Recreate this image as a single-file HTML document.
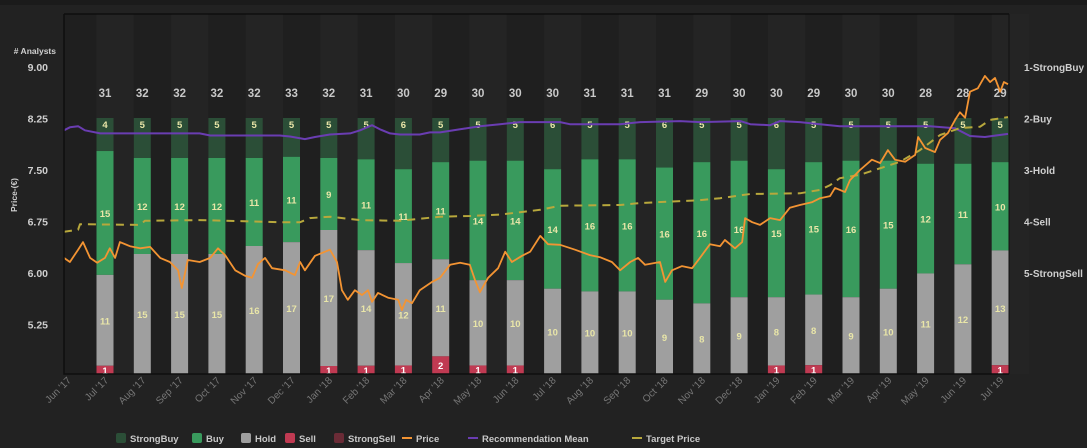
<!DOCTYPE html>
<html><head><meta charset="utf-8">
<style>
body{margin:0;background:#222;width:1087px;height:448px;overflow:hidden;font-family:"Liberation Sans",sans-serif}
svg{display:block}
</style></head>
<body>
<svg id="c" width="1087" height="448">
<rect x="0" y="0" width="1087" height="5" fill="#1b1b1b"/>
</svg>
<script>
const months=["Jun '17","Jul '17","Aug '17","Sep '17","Oct '17","Nov '17","Dec '17","Jan '18","Feb '18","Mar '18","Apr '18","May '18","Jun '18","Jul '18","Aug '18","Sep '18","Oct '18","Nov '18","Dec '18","Jan '19","Feb '19","Mar '19","Apr '19","May '19","Jun '19","Jul '19"];
const strongBuy=[4,5,5,5,5,5,5,5,6,5,5,5,6,5,5,6,5,5,6,5,5,5,5,5,5];
const buy=[15,12,12,12,11,11,9,11,11,11,14,14,14,16,16,16,16,16,15,15,16,15,12,11,10];
const hold=[11,15,15,15,16,17,17,14,12,11,10,10,10,10,10,9,8,9,8,8,9,10,11,12,13];
const sell=[1,0,0,0,0,0,1,1,1,2,1,1,0,0,0,0,0,0,1,1,0,0,0,0,1];
const strongSell=[0,0,0,0,0,0,0,0,0,0,0,0,0,0,0,0,0,0,0,0,0,0,0,0,0];
const priceTicks=[9.00,8.25,7.50,6.75,6.00,5.25];
const recTicks=["1-StrongBuy","2-Buy","3-Hold","4-Sell","5-StrongSell"];
const priceT=[-0.10,0.06,0.28,0.41,0.60,0.79,1.00,1.13,1.27,1.40,1.67,1.94,2.21,2.48,2.74,2.96,3.06,3.22,3.54,3.82,4.03,4.22,4.49,4.75,4.94,5.10,5.29,5.48,5.83,6.09,6.23,6.36,6.63,6.90,7.03,7.22,7.35,7.51,7.70,7.89,8.05,8.16,8.32,8.59,8.86,8.96,9.07,9.23,9.44,9.77,9.98,10.25,10.52,10.78,10.92,11.05,11.27,11.54,11.73,11.91,12.18,12.40,12.67,12.88,13.20,13.60,14.00,14.27,14.59,14.81,15.08,15.29,15.48,15.88,16.02,16.20,16.47,16.74,16.95,17.22,17.49,17.62,17.89,18.08,18.16,18.35,18.56,18.83,19.10,19.36,19.63,19.95,20.17,20.44,20.57,20.84,20.97,21.24,21.56,21.78,21.99,22.18,22.45,22.72,22.80,22.99,23.25,23.39,23.60,23.79,23.92,24.06,24.19,24.40,24.59,24.73,24.86,25.00,25.10,25.21];
const priceV=[6.22,6.16,6.34,6.45,6.22,6.15,6.22,6.36,6.22,6.45,6.39,6.36,6.38,6.22,6.16,6.04,5.78,6.19,6.16,6.22,6.36,6.26,6.04,5.96,5.93,6.13,6.22,6.07,6.04,5.97,6.16,6.04,6.25,6.31,6.34,6.16,5.75,5.61,5.75,5.68,5.75,5.58,5.71,5.64,5.61,5.46,5.61,5.56,5.75,5.87,5.93,6.12,6.15,6.12,5.90,5.72,5.93,6.07,6.31,6.16,6.25,6.31,6.54,6.42,6.41,6.34,6.26,6.23,6.16,6.04,6.16,6.22,6.12,6.16,5.87,6.04,6.10,6.07,6.22,6.42,6.39,6.48,6.36,6.45,6.80,6.74,6.70,6.80,6.77,6.95,6.99,7.03,7.09,7.12,7.24,7.18,7.35,7.50,7.65,7.60,7.79,7.65,7.62,7.72,7.98,7.82,7.76,7.94,8.04,8.23,8.34,8.26,8.64,8.69,8.87,8.78,8.84,8.64,8.78,8.75];
const targetT=[-0.10,0.28,0.33,1.94,2.07,3.54,5.69,6.23,6.49,7.03,7.84,8.91,9.98,10.78,11.59,12.67,13.20,14.81,15.35,16.95,17.49,18.30,19.63,20.17,20.44,20.70,21.24,22.31,22.85,23.39,23.92,24.46,24.73,25.21];
const targetV=[6.60,6.63,6.71,6.70,6.76,6.77,6.74,6.74,6.80,6.82,6.77,6.76,6.82,6.83,6.85,6.92,6.98,6.99,7.02,7.06,7.09,7.15,7.16,7.21,7.28,7.38,7.43,7.62,7.79,8.01,8.11,8.13,8.23,8.27];
const recT=[-0.10,0.06,0.28,0.46,0.87,3.54,3.82,5.69,5.96,6.36,6.63,7.03,7.57,7.84,8.16,8.37,8.64,8.91,9.44,9.71,9.98,10.52,11.05,11.59,12.13,13.20,13.46,14.81,15.35,16.42,16.95,18.03,18.30,18.83,19.10,19.63,20.17,20.70,21.78,22.31,23.12,23.79,24.19,24.59,25.21];
const recV=[2.23,2.17,2.15,2.23,2.29,2.29,2.33,2.33,2.35,2.40,2.36,2.31,2.29,2.23,2.13,2.21,2.29,2.31,2.31,2.27,2.27,2.21,2.15,2.11,2.07,2.07,2.11,2.11,2.07,2.05,2.07,2.05,2.11,2.13,2.05,2.07,2.11,2.15,2.15,2.15,2.15,2.19,2.34,2.36,2.30];

const NS="http://www.w3.org/2000/svg";
const svg=document.getElementById('c');
const L=64,R=1009,T=14,B=374;
const x=t=>67.7+t*37.3;
const yP=p=>67+(9-p)/0.75*51.5;
const yR=r=>67+(r-1)*51.5;
const barTop=118,barH=B-barTop,bw=17;
function el(tag,a,parent){const e=document.createElementNS(NS,tag);for(const k in a)e.setAttribute(k,a[k]);(parent||svg).appendChild(e);return e;}

const plot=el('rect',{x:L,y:T,width:R-L,height:B-T,fill:'#1f1f1f'});


for(let i=1;i<=25;i+=2){
  const band=el('rect',{x:x(i)-8.5,y:T,width:37.3,height:B-T,fill:'#242424'});
  
  
}
const clip=el('clipPath',{id:'pc'});el('rect',{x:L,y:T,width:R-L,height:B-T},clip);

const segs=[[strongBuy,'#2b4e37','strongbuy'],[buy,'#399a5d','buy'],[hold,'#9f9f9f','hold'],[sell,'#c03a52','sell'],[strongSell,'#6a2b36','strongsell']];
for(let i=0;i<strongBuy.length;i++){
  const tot=segs.reduce((s,g)=>s+g[0][i],0);
  const cx=x(i+1);
  let yy=barTop;
  for(const [arr,col,nm] of segs){
    const v=arr[i]; if(!v) continue;
    const h=v/tot*barH;
    const r=el('rect',{x:cx-bw/2,y:yy,width:bw,height:h,fill:col});
    
    
    const ty=(nm==='strongbuy')?yy+10:yy+h/2+4;
    const t=el('text',{x:cx,y:ty,'text-anchor':'middle','font-size':'9.5','font-weight':'bold',fill:(nm==='sell')?'#fff':'#e9e6a8'});
    t.textContent=v;
    
    
    yy+=h;
  }
  const tl=el('text',{x:cx,y:97,'text-anchor':'middle','font-size':'11.5','font-weight':'bold',fill:'#c8c8c8'});
  tl.textContent=tot;
  
  
}
function line(ts,vs,yf,attrs,name){
  let d='';for(let i=0;i<Math.min(ts.length,vs.length);i++)d+=(i?'L':'M')+x(ts[i]).toFixed(1)+','+yf(vs[i]).toFixed(1);
  const p=el('path',Object.assign({d,fill:'none','clip-path':'url(#pc)','stroke-linejoin':'round'},attrs));
  
  
}
line(recT,recV,yR,{stroke:'#6a3db2','stroke-width':2},'recommendation-mean-line');
line(targetT,targetV,yP,{stroke:'#b8a83c','stroke-width':2,'stroke-dasharray':'8,6'},'target-price-line');
line(priceT,priceV,yP,{stroke:'#f39433','stroke-width':1.8},'price-line');

const fr=el('path',{d:`M${L},${T}H${R}M${L},${T}V${B}H${R}`,stroke:'#0e0e0e','stroke-width':1.5,fill:'none'});


const rl=el('line',{x1:R,y1:T,x2:R,y2:B,stroke:'#111','stroke-width':1});



priceTicks.forEach(p=>{
  const t=el('text',{x:48,y:yP(p)+4,'text-anchor':'end','font-size':'10.5','font-weight':'bold',fill:'#cfcfcf'});
  t.textContent=p.toFixed(2);
  
  
});
recTicks.forEach((s,i)=>{
  const t=el('text',{x:1024,y:yR(i+1)+4,'font-size':'10','font-weight':'bold',fill:'#cfcfcf'});
  t.textContent=s;
  
  
});
months.forEach((m,i)=>{
  const t=el('text',{x:0,y:0,'text-anchor':'end','font-size':'10',fill:'#777',transform:`translate(${x(i)+4},${381}) rotate(-45)`});
  t.textContent=m;
  
  
});
const an=el('text',{x:56,y:54,'text-anchor':'end','font-size':'8.5','font-weight':'bold',fill:'#d0d0d0'});
an.textContent='# Analysts';


const pt=el('text',{x:0,y:0,'text-anchor':'middle','font-size':'8.5','font-weight':'bold',fill:'#d0d0d0',transform:'translate(17,195) rotate(-90)'});
pt.textContent='Price-(€)';



const legend=[['box','#2b4e37','StrongBuy',116],['box','#399a5d','Buy',192],['box','#9f9f9f','Hold',241],['box','#c03a52','Sell',285],['box','#6a2b36','StrongSell',334],['line','#f39433','Price',402],['line','#6a3db2','Recommendation Mean',468],['line','#b8a83c','Target Price',632]];
legend.forEach(([k,c,s,lx])=>{
  const g=el('g',{});
  
  
  if(k==='box')el('rect',{x:lx,y:433,width:10,height:10,rx:2,fill:c},g);
  else el('rect',{x:lx,y:437,width:10,height:2,fill:c},g);
  const t=el('text',{x:lx+14,y:442,'font-size':'9.5','font-weight':'bold',fill:'#c8c8c8'},g);
  t.textContent=s;
});
</script>
</body></html>
